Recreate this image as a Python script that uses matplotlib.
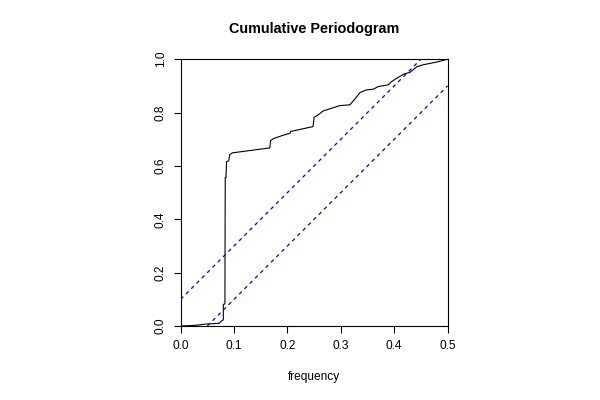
import matplotlib
matplotlib.use("Agg")
import matplotlib.pyplot as plt

plt.rcParams['font.family'] = ['Liberation Sans', 'DejaVu Sans']

freq = [0.0, 0.027, 0.049, 0.072, 0.077, 0.080, 0.080, 0.083, 0.0836, 0.085, 0.086,
        0.090, 0.092, 0.097, 0.167, 0.1685, 0.174, 0.192, 0.205, 0.206, 0.248,
        0.250, 0.255, 0.267, 0.298, 0.317, 0.326, 0.336, 0.348, 0.361, 0.370,
        0.389, 0.395, 0.408, 0.420, 0.429, 0.443, 0.454, 0.479, 0.5]
cum = [0.0, 0.0025, 0.0075, 0.010, 0.020, 0.0225, 0.081, 0.0825, 0.557, 0.557, 0.616,
       0.619, 0.6425, 0.649, 0.6675, 0.695, 0.7025, 0.715, 0.7225, 0.729, 0.7475,
       0.7825, 0.7875, 0.806, 0.826, 0.829, 0.850, 0.875, 0.885, 0.8875, 0.8975,
       0.904, 0.916, 0.9325, 0.946, 0.950, 0.9725, 0.979, 0.989, 1.0]

crit = 0.1
xm = 0.5
upper_x = [0.0, xm * (1 - crit)]
upper_y = [crit, 1.0]
lower_x = [xm * crit, xm]
lower_y = [0.0, 1 - crit]

fig = plt.figure(figsize=(6, 4), dpi=100)
ax = fig.add_axes([0.301, 0.185, 0.445, 0.667])
ax.plot(freq, cum, color='black', lw=0.8)
ax.plot(upper_x, upper_y, color='blue', lw=0.9, dashes=(3, 3))
ax.plot(lower_x, lower_y, color='blue', lw=0.9, dashes=(3, 3))

ax.set_xlim(0, 0.5)
ax.set_ylim(0, 1)
ax.set_xticks([0.0, 0.1, 0.2, 0.3, 0.4, 0.5])
ax.set_xticklabels(['0.0', '0.1', '0.2', '0.3', '0.4', '0.5'])
ax.set_yticks([0.0, 0.2, 0.4, 0.6, 0.8, 1.0])
ax.set_yticklabels(['0.0', '0.2', '0.4', '0.6', '0.8', '1.0'], rotation=90, va='center')
ax.tick_params(direction='out', length=5, width=0.8, labelsize=8.6, pad=5)
for s in ax.spines.values():
    s.set_linewidth(0.8)

ax.set_xlabel('frequency', fontsize=8.6, labelpad=14)
ax.set_title('Cumulative Periodogram', fontsize=10.4, fontweight='bold', pad=19)

fig.savefig('out.png', dpi=100)
